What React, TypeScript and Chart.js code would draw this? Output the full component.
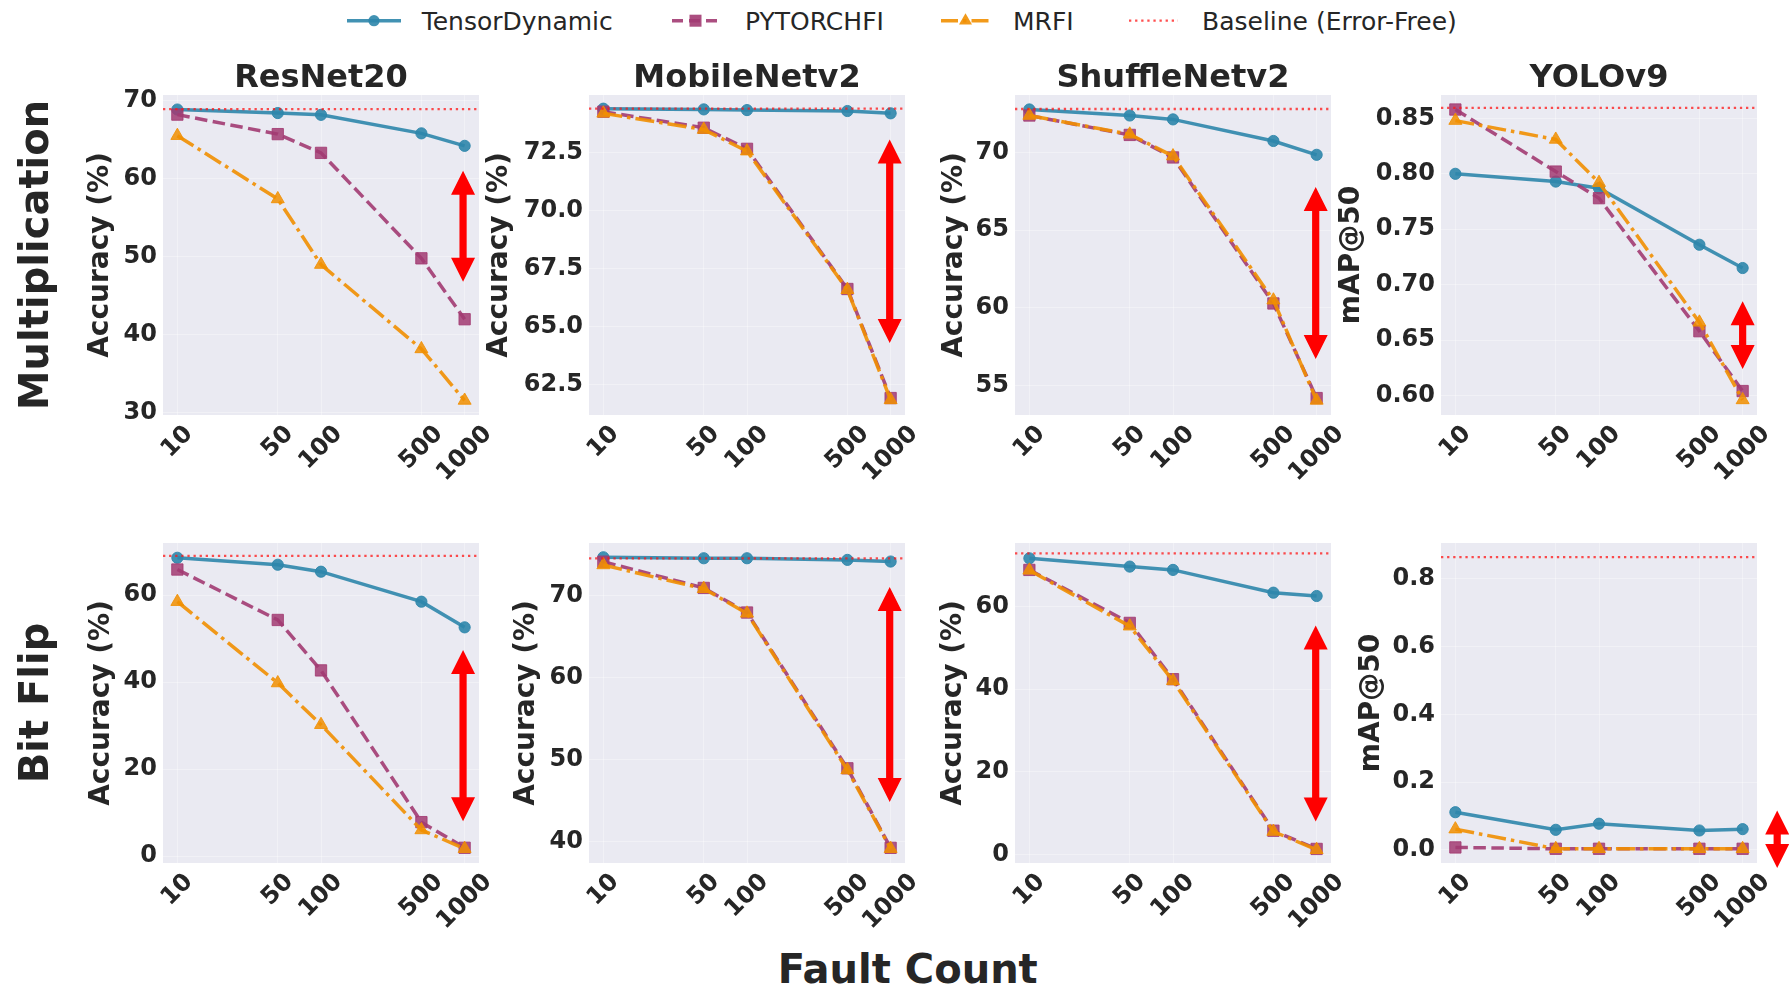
import React, { useEffect, useRef } from 'react';
import { Chart, registerables } from 'chart.js';

Chart.register(...registerables);

// ---------------- data ----------------
const faultCounts = [10, 50, 100, 500, 1000];
const xTickLabels = ['10', '50', '100', '500', '1000'];
const models = ['ResNet20', 'MobileNetv2', 'ShuffleNetv2', 'YOLOv9'];
const faultTypes = ['Multiplication', 'Bit Flip'];
const methods = ['TensorDynamic', 'PYTORCHFI', 'MRFI', 'Baseline (Error-Free)'];
const yAxisTitles = ['Accuracy (%)', 'Accuracy (%)', 'Accuracy (%)', 'mAP@50'];

// Multiplication faults
const mulResNetTD = [68.85, 68.4, 68.17, 65.8, 64.2];
const mulResNetPF = [68.2, 65.7, 63.3, 49.8, 42.0];
const mulResNetMR = [65.5, 57.4, 49.0, 38.2, 31.6];
const mulMobileTD = [74.4, 74.37, 74.34, 74.3, 74.2];
const mulMobilePF = [74.27, 73.58, 72.67, 66.63, 61.93];
const mulMobileMR = [74.2, 73.5, 72.57, 66.6, 61.85];
const mulShuffleTD = [72.77, 72.38, 72.13, 70.74, 69.85];
const mulShufflePF = [72.38, 71.13, 69.68, 60.28, 54.19];
const mulShuffleMR = [72.38, 71.17, 69.77, 60.49, 54.04];
const mulYoloTD = [0.8, 0.793, 0.787, 0.736, 0.715];
const mulYoloPF = [0.858, 0.802, 0.778, 0.658, 0.604];
const mulYoloMR = [0.848, 0.831, 0.792, 0.666, 0.596];

// Bit flip faults
const bfResNetTD = [68.6, 67.0, 65.4, 58.5, 52.6];
const bfResNetPF = [65.9, 54.3, 42.7, 7.8, 1.9];
const bfResNetMR = [58.5, 39.8, 30.2, 6.0, 1.7];
const bfMobileTD = [74.64, 74.52, 74.52, 74.32, 74.12];
const bfMobilePF = [74.1, 70.9, 67.9, 48.9, 39.2];
const bfMobileMR = [73.7, 70.8, 67.8, 48.7, 39.1];
const bfShuffleTD = [71.6, 69.6, 68.8, 63.3, 62.5];
const bfShufflePF = [68.8, 56.0, 42.4, 5.8, 1.4];
const bfShuffleMR = [68.7, 55.2, 42.0, 5.6, 1.2];
const bfYoloTD = [0.111, 0.059, 0.077, 0.057, 0.061];
const bfYoloPF = [0.007, 0.003, 0.003, 0.003, 0.003];
const bfYoloMR = [0.061, 0.003, 0.003, 0.003, 0.003];

const baselines = [68.9, 74.4, 72.8, 0.8595, 69.05, 74.5, 72.8, 0.864];

// gap arrows (x position in fault count, top/bottom values)
const arrowX = [975, 985, 985, 1000, 975, 985, 985, 1740];
const arrowTop = [61.0, 73.07, 67.77, 0.685, 47.4, 71.0, 55.4, 0.116];
const arrowBottom = [46.8, 64.3, 56.7, 0.624, 8.0, 44.8, 8.0, -0.054];

// axes
const X_MIN = 7.943;
const X_MAX = 1258.9;
const yMin = [29.74, 61.2, 53.1, 0.5824, -1.6, 37.35, -2.0, -0.039];
const yMax = [70.71, 74.99, 73.7, 0.8711, 72.0, 76.38, 75.3, 0.906];
const yTicks = [
  [30, 40, 50, 60, 70],
  [62.5, 65, 67.5, 70, 72.5],
  [55, 60, 65, 70],
  [0.6, 0.65, 0.7, 0.75, 0.8, 0.85],
  [0, 20, 40, 60],
  [40, 50, 60, 70],
  [0, 20, 40, 60],
  [0, 0.2, 0.4, 0.6, 0.8],
];
const yDecimals = [0, 1, 0, 2, 0, 0, 0, 1];

const seriesTD = [mulResNetTD, mulMobileTD, mulShuffleTD, mulYoloTD, bfResNetTD, bfMobileTD, bfShuffleTD, bfYoloTD];
const seriesPF = [mulResNetPF, mulMobilePF, mulShufflePF, mulYoloPF, bfResNetPF, bfMobilePF, bfShufflePF, bfYoloPF];
const seriesMR = [mulResNetMR, mulMobileMR, mulShuffleMR, mulYoloMR, bfResNetMR, bfMobileMR, bfShuffleMR, bfYoloMR];

// ---------------- style / layout ----------------
const FONT = "'DejaVu Sans', sans-serif";
const TEXT = '#262626';
const C_TD = '#2E86AB';
const C_PF = '#A23B72';
const C_MR = '#F18F01';
const C_BASE = 'rgba(255,20,20,0.75)';
const PLOT_BG = '#EAEAF2';
const GRID = 'rgba(255,255,255,0.35)';
const LW = 3.5;

const PLOT_LEFTS = [163, 589, 1015, 1441];
const PLOT_TOPS = [95, 543];
const PLOT_W = 316;
const PLOT_H = 320;
const Y_AXIS_W = 110;
const PAD_TOP = 30;
const PAD_RIGHT = 40;
const X_AXIS_H = 80;
const yLabelOffsets = [62, 89, 60, 89, 61, 62, 61, 69];

function rgba(hex: string, a: number) {
  const n = parseInt(hex.slice(1), 16);
  return `rgba(${(n >> 16) & 255},${(n >> 8) & 255},${n & 255},${a})`;
}

const pts = (vals: number[]) => faultCounts.map((x, i) => ({ x, y: vals[i] }));

function buildConfig(idx: number): any {
  const col = idx % 4;
  const bgPlugin = {
    id: 'plotBg',
    beforeDraw(chart: any) {
      const { ctx, chartArea } = chart;
      ctx.save();
      ctx.fillStyle = PLOT_BG;
      ctx.fillRect(chartArea.left, chartArea.top, chartArea.right - chartArea.left, chartArea.bottom - chartArea.top);
      ctx.restore();
    },
  };
  const arrowPlugin = {
    id: 'gapArrow',
    afterDatasetsDraw(chart: any) {
      const { ctx } = chart;
      const xs = chart.scales.x;
      const ys = chart.scales.y;
      const px = xs.getPixelForValue(arrowX[idx]);
      const yA = ys.getPixelForValue(arrowTop[idx]);
      const yB = ys.getPixelForValue(arrowBottom[idx]);
      const hl = 24, hw = 12, sw = 3.6;
      ctx.save();
      ctx.fillStyle = '#FF0000';
      ctx.beginPath();
      ctx.moveTo(px, yA);
      ctx.lineTo(px + hw, yA + hl);
      ctx.lineTo(px + sw, yA + hl);
      ctx.lineTo(px + sw, yB - hl);
      ctx.lineTo(px + hw, yB - hl);
      ctx.lineTo(px, yB);
      ctx.lineTo(px - hw, yB - hl);
      ctx.lineTo(px - sw, yB - hl);
      ctx.lineTo(px - sw, yA + hl);
      ctx.lineTo(px - hw, yA + hl);
      ctx.closePath();
      ctx.fill();
      ctx.restore();
    },
  };
  const xLabelPlugin = {
    id: 'xLabels',
    afterDraw(chart: any) {
      const { ctx, chartArea } = chart;
      const xs = chart.scales.x;
      const fs = 24;
      ctx.save();
      ctx.font = `bold ${fs}px ${FONT}`;
      ctx.fillStyle = TEXT;
      ctx.textAlign = 'center';
      ctx.textBaseline = 'middle';
      faultCounts.forEach((v, k) => {
        const lab = xTickLabels[k];
        const w = ctx.measureText(lab).width;
        const half = ((w + 0.729 * fs) * Math.SQRT1_2) / 2;
        const px = xs.getPixelForValue(v);
        const cy = chartArea.bottom + 9 + half;
        ctx.save();
        ctx.translate(px, cy);
        ctx.rotate(-Math.PI / 4);
        ctx.fillText(lab, 0, 0);
        ctx.restore();
      });
      ctx.restore();
    },
  };

  const lh = 28 * 1.2;
  const titlePadTop = Y_AXIS_W - yLabelOffsets[idx] - lh / 2;

  return {
    type: 'line',
    data: {
      datasets: [
        {
          label: methods[3],
          data: [{ x: X_MIN, y: baselines[idx] }, { x: X_MAX, y: baselines[idx] }],
          borderColor: C_BASE,
          borderWidth: 2.3,
          borderDash: [2.3, 3.8],
          pointRadius: 0,
          order: 0,
        },
        {
          label: methods[2],
          data: pts(seriesMR[idx]),
          borderColor: rgba(C_MR, 0.9),
          borderWidth: LW,
          borderDash: [19, 5, 3.5, 5],
          pointStyle: 'triangle',
          pointRadius: 7.5,
          pointBackgroundColor: rgba(C_MR, 0.85),
          pointBorderColor: rgba(C_MR, 0.85),
          pointBorderWidth: 1,
          order: 1,
        },
        {
          label: methods[1],
          data: pts(seriesPF[idx]),
          borderColor: rgba(C_PF, 0.9),
          borderWidth: LW,
          borderDash: [12.5, 5.5],
          pointStyle: 'rect',
          pointRadius: 8,
          pointBackgroundColor: rgba(C_PF, 0.85),
          pointBorderColor: rgba(C_PF, 0.85),
          pointBorderWidth: 1,
          order: 2,
        },
        {
          label: methods[0],
          data: pts(seriesTD[idx]),
          borderColor: rgba(C_TD, 0.9),
          borderWidth: LW,
          pointStyle: 'circle',
          pointRadius: 5.6,
          pointBackgroundColor: rgba(C_TD, 0.9),
          pointBorderColor: rgba(C_TD, 0.9),
          pointBorderWidth: 1,
          order: 3,
        },
      ],
    },
    options: {
      animation: false,
      responsive: false,
      devicePixelRatio: 1,
      events: [],
      layout: { padding: { top: PAD_TOP, right: PAD_RIGHT, left: 0, bottom: 0 } },
      plugins: {
        legend: { display: false },
        tooltip: { enabled: false },
        title: { display: false },
      },
      elements: { line: { tension: 0 } },
      scales: {
        x: {
          type: 'logarithmic',
          min: X_MIN,
          max: X_MAX,
          bounds: 'data',
          afterBuildTicks: (s: any) => {
            s.ticks = faultCounts.map((v) => ({ value: v }));
          },
          afterFit: (s: any) => {
            s.height = X_AXIS_H;
          },
          ticks: { display: false, autoSkip: false },
          grid: { color: GRID, lineWidth: 1, drawTicks: false },
          border: { display: false },
        },
        y: {
          type: 'linear',
          min: yMin[idx],
          max: yMax[idx],
          bounds: 'data',
          afterBuildTicks: (s: any) => {
            s.ticks = yTicks[idx].map((v) => ({ value: v }));
          },
          afterFit: (s: any) => {
            s.width = Y_AXIS_W;
          },
          ticks: {
            autoSkip: false,
            padding: 6,
            color: TEXT,
            font: { family: FONT, size: 24, weight: 'bold' },
            callback: (v: any) => Number(v).toFixed(yDecimals[idx]),
          },
          grid: { color: GRID, lineWidth: 1, drawTicks: false },
          border: { display: false },
          title: {
            display: true,
            text: yAxisTitles[col],
            color: TEXT,
            font: { family: FONT, size: 28, weight: 'bold' },
            padding: { top: titlePadTop, bottom: 0 },
          },
        },
      },
    },
    plugins: [bgPlugin, arrowPlugin, xLabelPlugin],
  };
}

function Panel({ idx }: { idx: number }) {
  const ref = useRef<HTMLCanvasElement | null>(null);
  const row = Math.floor(idx / 4);
  const col = idx % 4;
  const W = Y_AXIS_W + PLOT_W + PAD_RIGHT;
  const H = PAD_TOP + PLOT_H + X_AXIS_H;
  useEffect(() => {
    const canvas = ref.current;
    if (!canvas) return;
    const chart = new Chart(canvas, buildConfig(idx));
    return () => chart.destroy();
  }, [idx]);
  return (
    <canvas
      ref={ref}
      width={W}
      height={H}
      style={{
        position: 'absolute',
        left: PLOT_LEFTS[col] - Y_AXIS_W,
        top: PLOT_TOPS[row] - PAD_TOP,
        width: W,
        height: H,
      }}
    />
  );
}

function Legend() {
  const cy = 20.7;
  const textX = [421.7, 745, 1013, 1202];
  return (
    <>
      <svg width={1789} height={45} style={{ position: 'absolute', left: 0, top: 0 }}>
        <line x1={347} y1={cy} x2={401} y2={cy} stroke={rgba(C_TD, 0.9)} strokeWidth={3.5} />
        <circle cx={374} cy={cy} r={5.6} fill={rgba(C_TD, 0.9)} />
        <line x1={672} y1={cy} x2={719} y2={cy} stroke={rgba(C_PF, 0.9)} strokeWidth={3.5} strokeDasharray="11 6" />
        <rect x={689.5} y={cy - 6} width={12} height={12} fill={rgba(C_PF, 0.9)} />
        <line x1={941} y1={cy} x2={990} y2={cy} stroke={rgba(C_MR, 0.9)} strokeWidth={3.5} strokeDasharray="17 5 3.5 5" />
        <polygon
          points={`965.5,${cy - 7.5} ${965.5 - 6.5},${cy + 3.75} ${965.5 + 6.5},${cy + 3.75}`}
          fill={rgba(C_MR, 0.9)}
        />
        <line x1={1129} y1={cy} x2={1178} y2={cy} stroke={C_BASE} strokeWidth={2.3} strokeDasharray="2.3 3.8" />
      </svg>
      {methods.map((m, i) => (
        <div
          key={m}
          style={{
            position: 'absolute',
            left: textX[i],
            top: cy - 0.48 * 25,
            fontSize: 25,
            lineHeight: 1,
            whiteSpace: 'nowrap',
          }}
        >
          {m}
        </div>
      ))}
    </>
  );
}

export default function App() {
  const rowCenters = [255, 702.5];
  return (
    <div
      style={{
        position: 'absolute',
        left: 0,
        top: 0,
        width: 1789,
        height: 988,
        background: '#ffffff',
        overflow: 'hidden',
        fontFamily: FONT,
        color: TEXT,
      }}
    >
      {[0, 1, 2, 3, 4, 5, 6, 7].map((i) => (
        <Panel key={i} idx={i} />
      ))}
      <Legend />
      {models.map((m, c) => (
        <div
          key={m}
          style={{
            position: 'absolute',
            left: PLOT_LEFTS[c] + PLOT_W / 2,
            top: 75.8 - 0.48 * 32,
            transform: 'translateX(-50%)',
            fontSize: 32,
            fontWeight: 'bold',
            lineHeight: 1,
            whiteSpace: 'nowrap',
          }}
        >
          {m}
        </div>
      ))}
      {faultTypes.map((f, r) => (
        <div
          key={f}
          style={{
            position: 'absolute',
            left: 33.6,
            top: rowCenters[r],
            transform: 'translate(-50%, -50%) rotate(-90deg)',
            fontSize: 40,
            fontWeight: 'bold',
            lineHeight: 1,
            whiteSpace: 'nowrap',
          }}
        >
          {f}
        </div>
      ))}
      <div
        style={{
          position: 'absolute',
          left: 907.7,
          top: 968 - 0.48 * 40,
          transform: 'translateX(-50%)',
          fontSize: 40,
          fontWeight: 'bold',
          lineHeight: 1,
          whiteSpace: 'nowrap',
        }}
      >
        Fault Count
      </div>
    </div>
  );
}
